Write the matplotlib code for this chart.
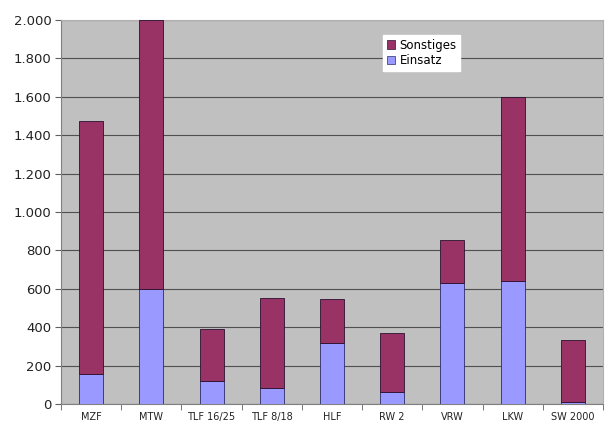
import matplotlib
matplotlib.use("Agg")
import matplotlib.pyplot as plt
from matplotlib.ticker import FuncFormatter, FixedLocator

categories = ["MZF", "MTW", "TLF 16/25", "TLF 8/18", "HLF", "RW 2", "VRW", "LKW", "SW 2000"]
einsatz = [155, 600, 118, 85, 320, 60, 630, 640, 10]
gesamt = [1475, 2000, 392, 552, 547, 370, 854, 1599, 333]
sonstiges = [g - e for g, e in zip(gesamt, einsatz)]

W, H = 607, 421
fig = plt.figure(figsize=(W / 100, H / 100), dpi=100)
fig.patch.set_facecolor("white")
ax = fig.add_axes([61 / W, (H - 404) / H, (603 - 61) / W, (404 - 20) / H])
ax.set_facecolor("#C0C0C0")

x = list(range(len(categories)))
ax.bar(x, einsatz, width=0.4, color="#9999FF", edgecolor="#2B2B6B", linewidth=0.6,
       label="Einsatz", zorder=3)
ax.bar(x, sonstiges, width=0.4, bottom=einsatz, color="#993366", edgecolor="#2B1030",
       linewidth=0.6, label="Sonstiges", zorder=3)

ax.set_xlim(-0.5, len(categories) - 0.5)
ax.set_ylim(0, 2000)
ax.set_yticks(range(0, 2001, 200))
ax.yaxis.set_major_formatter(FuncFormatter(lambda v, p: f"{int(v):,}".replace(",", ".")))
ax.yaxis.grid(True, color="#505050", linewidth=0.8, zorder=1)
ax.set_axisbelow(True)

ax.set_xticks(x)
ax.set_xticklabels(categories, fontsize=7, color="#222222")
ax.tick_params(axis="x", which="major", length=0, pad=6)
ax.xaxis.set_minor_locator(FixedLocator([i - 0.5 for i in range(len(categories) + 1)]))
ax.tick_params(axis="x", which="minor", length=4, color="#606060")
ax.tick_params(axis="y", length=4, color="#606060", labelsize=9.5, labelcolor="#222222", pad=3)

for side in ["left", "bottom"]:
    ax.spines[side].set_color("#808080")
for side in ["top", "right"]:
    ax.spines[side].set_color("#B0B0B0")

handles, labels = ax.get_legend_handles_labels()
leg = ax.legend(handles[::-1], labels[::-1], loc="upper left",
                bbox_to_anchor=((383 - 61) / (603 - 61), 1 - (35 - 20) / (404 - 20)),
                borderaxespad=0, fontsize=8.5, frameon=True, fancybox=False, framealpha=1,
                edgecolor="white", handlelength=0.7, handleheight=0.7,
                handletextpad=0.4, borderpad=0.3, labelspacing=0.25)
for h in leg.legend_handles:
    h.set_linewidth(0.5)

fig.savefig("out.png", dpi=100)
